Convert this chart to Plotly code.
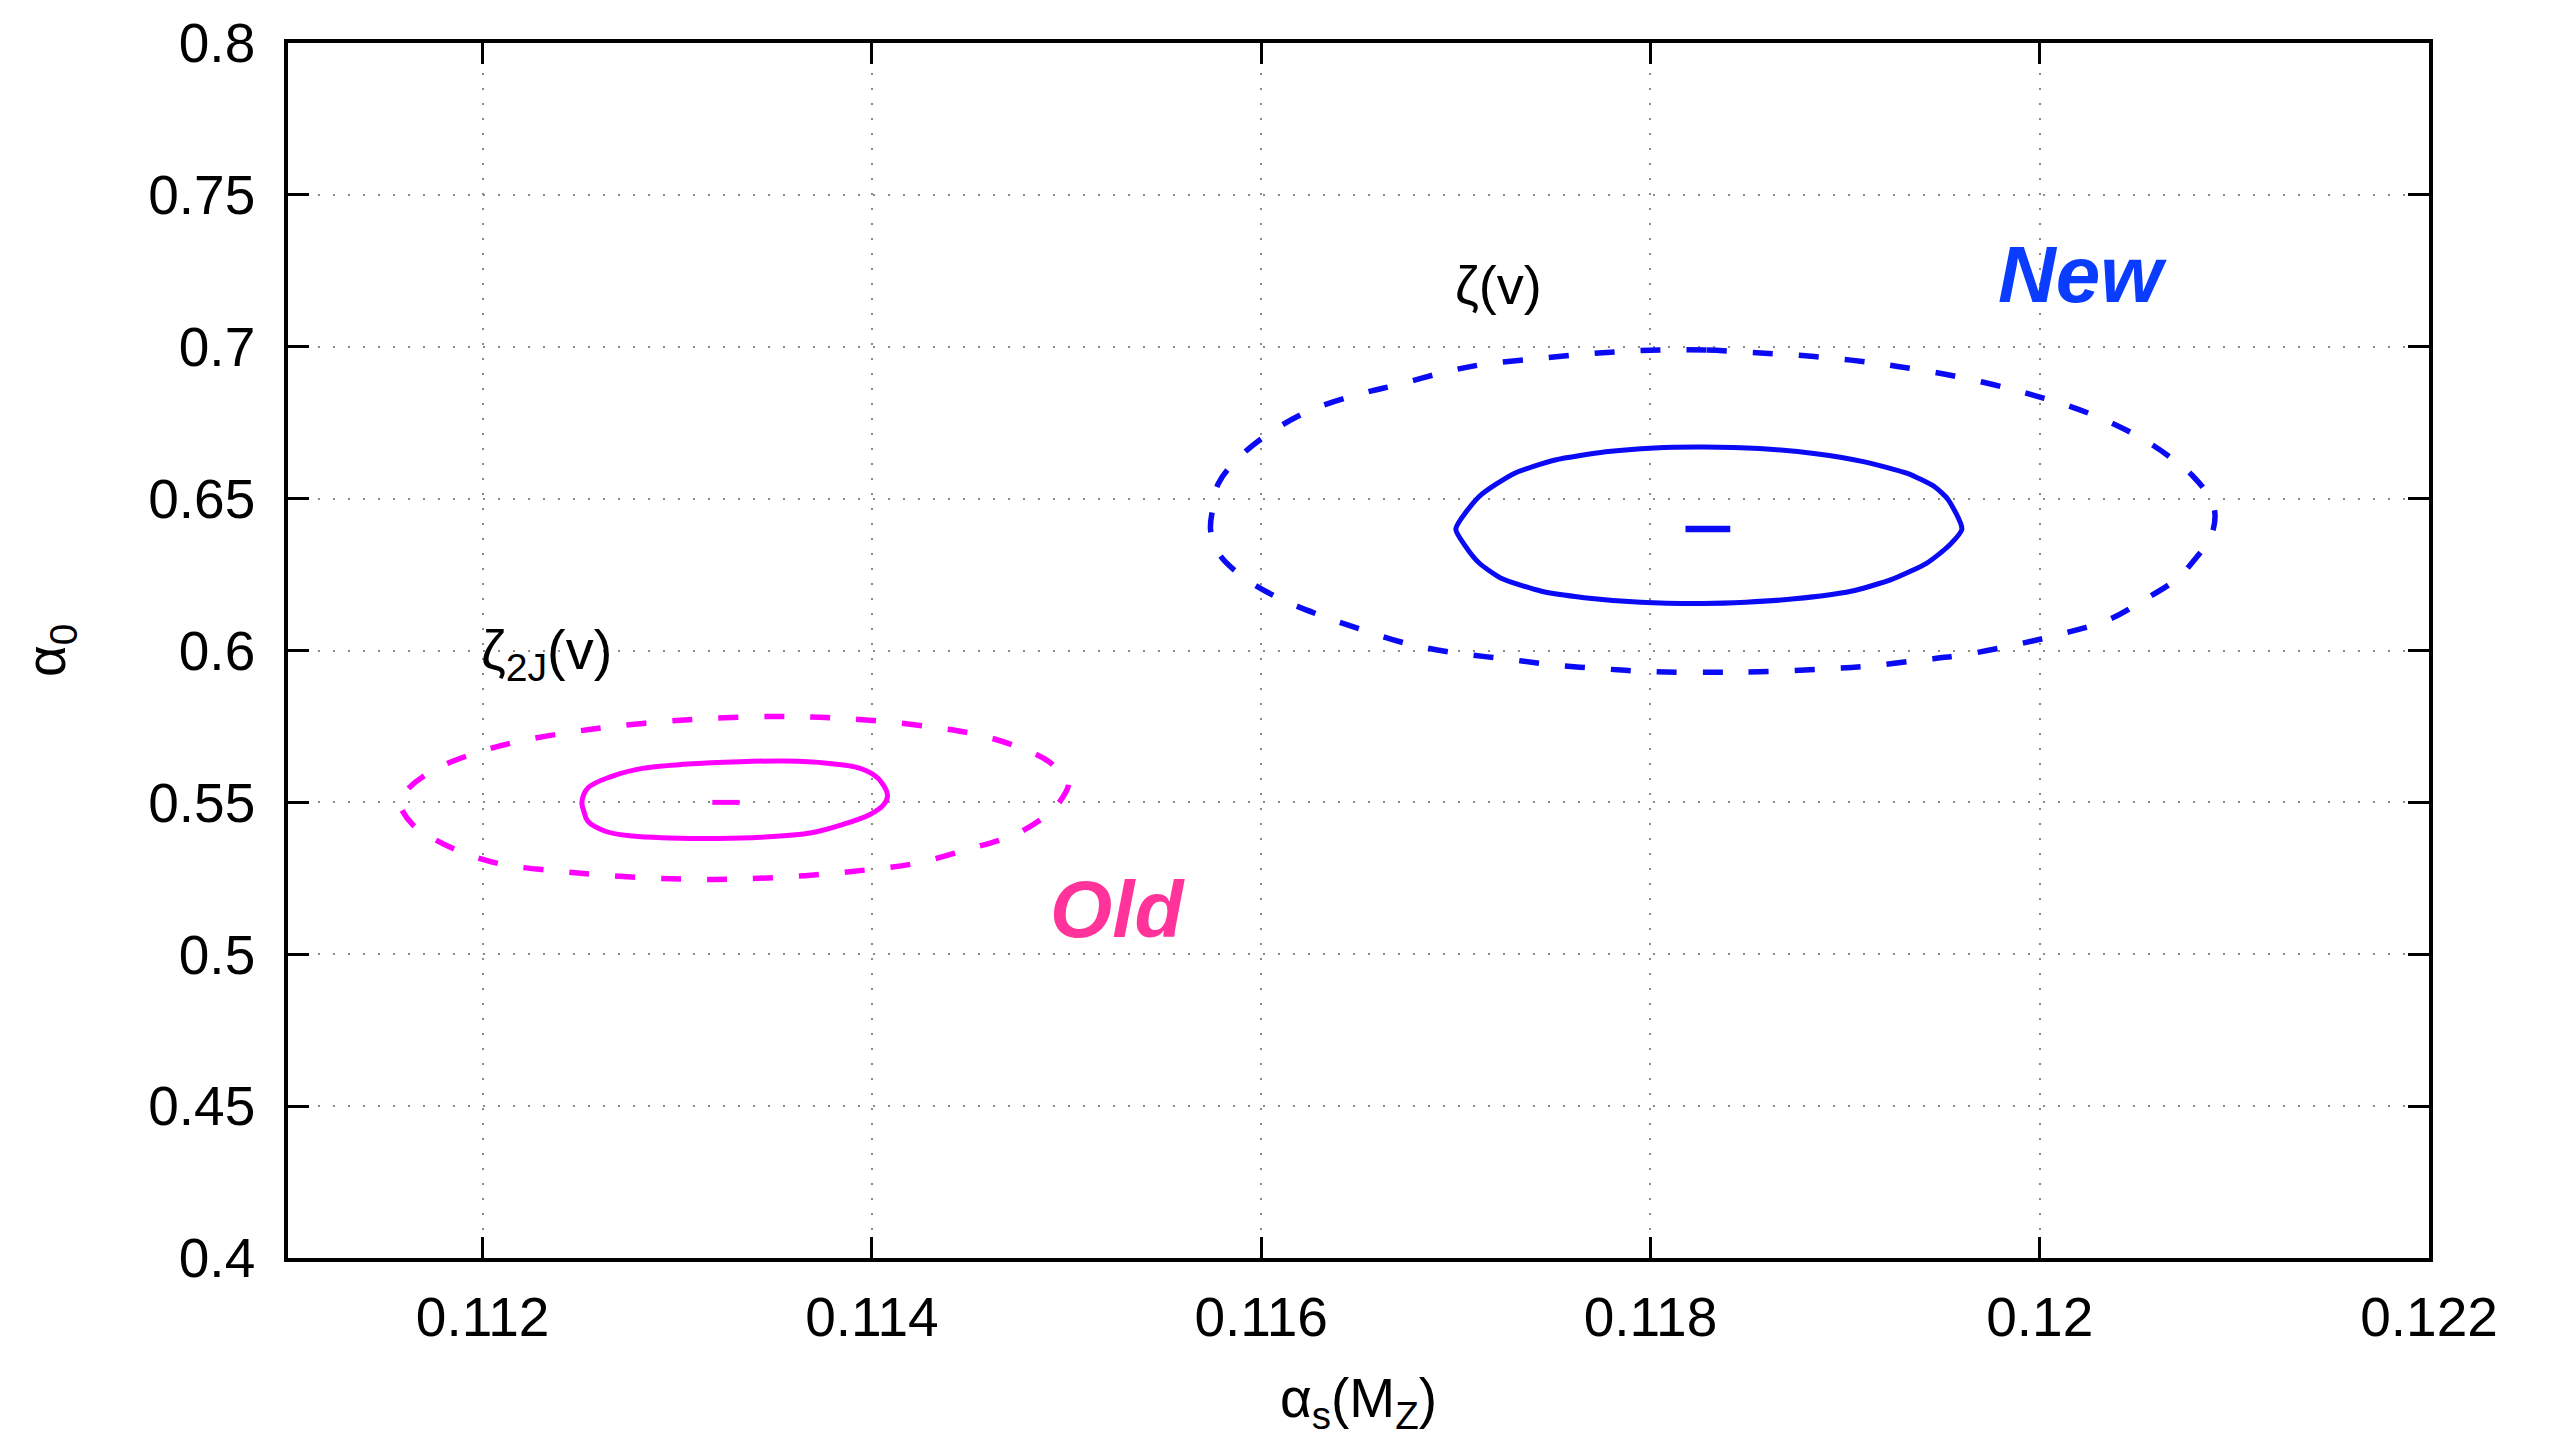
import plotly.graph_objects as go

# ---- data ----
new_outer_x = [0.11805, 0.11829, 0.11852, 0.11878, 0.11903, 0.11924, 0.11946, 0.11971, 0.11993, 0.12014,
               0.12036, 0.12054, 0.12069, 0.12079, 0.12087, 0.12090, 0.12088, 0.12081, 0.12070, 0.12054,
               0.12036, 0.12014, 0.11989, 0.11960, 0.11939, 0.11914, 0.11888, 0.11856, 0.11831, 0.11802,
               0.11777, 0.11751, 0.11726, 0.11701, 0.11676, 0.11651, 0.11629, 0.11607, 0.11589, 0.11578,
               0.11574, 0.11575, 0.11578, 0.11589, 0.11605, 0.11625, 0.11651, 0.11672, 0.11694, 0.11715,
               0.11741, 0.11766, 0.11787, 0.11805]
new_outer_y = [0.6989, 0.6989, 0.6981, 0.6971, 0.6956, 0.6938, 0.6916, 0.6883, 0.6847, 0.6807,
               0.6752, 0.6692, 0.6627, 0.6572, 0.6507, 0.6452, 0.6376, 0.6310, 0.6234, 0.6168,
               0.6103, 0.6059, 0.6021, 0.5985, 0.5969, 0.5950, 0.5939, 0.5930, 0.5928, 0.5930,
               0.5939, 0.5952, 0.5972, 0.5991, 0.6021, 0.6070, 0.6119, 0.6179, 0.6250, 0.6321,
               0.6397, 0.6463, 0.6550, 0.6638, 0.6719, 0.6790, 0.6845, 0.6878, 0.6916, 0.6943,
               0.6960, 0.6976, 0.6985, 0.6989]

new_inner_x = [0.11700, 0.11712, 0.11730, 0.11751, 0.11777, 0.11802, 0.11827, 0.11856, 0.11885, 0.11910,
               0.11932, 0.11946, 0.11953, 0.11960, 0.11953, 0.11942, 0.11924, 0.11903, 0.11874, 0.11849,
               0.11827, 0.11795, 0.11766, 0.11744, 0.11723, 0.11712, 0.11705, 0.11700]
new_inner_y = [0.6400, 0.6507, 0.6583, 0.6627, 0.6654, 0.6667, 0.6670, 0.6665, 0.6648, 0.6621,
               0.6583, 0.6539, 0.6496, 0.6400, 0.6343, 0.6288, 0.6234, 0.6195, 0.6170, 0.6159,
               0.6155, 0.6159, 0.6174, 0.6195, 0.6239, 0.6288, 0.6343, 0.6400]

new_center_x = [0.11818, 0.11841]
new_center_y = [0.6400, 0.6400]

old_outer_x = [0.11157, 0.11162, 0.11175, 0.11196, 0.11218, 0.11243, 0.11266, 0.11291, 0.11316, 0.11341,
               0.11363, 0.11385, 0.11408, 0.11433, 0.11455, 0.11477, 0.11491, 0.11499, 0.11501, 0.11494,
               0.11488, 0.11477, 0.11469, 0.11449, 0.11424, 0.11399, 0.11374, 0.11349, 0.11327, 0.11305,
               0.11282, 0.11257, 0.11235, 0.11210, 0.11190, 0.11174, 0.11164, 0.11158, 0.11157]
old_outer_y = [0.5503, 0.5547, 0.5607, 0.5662, 0.5700, 0.5729, 0.5749, 0.5765, 0.5776, 0.5782,
               0.5782, 0.5776, 0.5765, 0.5746, 0.5722, 0.5678, 0.5634, 0.5580, 0.5560, 0.5481,
               0.5449, 0.5405, 0.5383, 0.5345, 0.5301, 0.5279, 0.5263, 0.5252, 0.5247, 0.5247,
               0.5252, 0.5263, 0.5276, 0.5296, 0.5334, 0.5383, 0.5427, 0.5481, 0.5503]

old_inner_x = [0.11251, 0.11254, 0.11266, 0.11282, 0.11305, 0.11332, 0.11355, 0.11377, 0.11394, 0.11403,
               0.11408, 0.11406, 0.11399, 0.11385, 0.11369, 0.11343, 0.11321, 0.11296, 0.11277, 0.11263,
               0.11254, 0.11252, 0.11251]
old_inner_y = [0.5500, 0.5547, 0.5585, 0.5612, 0.5626, 0.5634, 0.5636, 0.5629, 0.5612, 0.5580,
               0.5525, 0.5492, 0.5460, 0.5427, 0.5400, 0.5385, 0.5381, 0.5383, 0.5389, 0.5405,
               0.5438, 0.5471, 0.5500]

old_center_x = [0.11318, 0.11332]
old_center_y = [0.5500, 0.5500]

x_tickvals = [0.112, 0.114, 0.116, 0.118, 0.120, 0.122]
x_ticktext = ["0.112", "0.114", "0.116", "0.118", "0.12", "0.122"]
y_tickvals = [0.40, 0.45, 0.50, 0.55, 0.60, 0.65, 0.70, 0.75, 0.80]
y_ticktext = ["0.4", "0.45", "0.5", "0.55", "0.6", "0.65", "0.7", "0.75", "0.8"]

BLUE = "#0a0af5"
MAGENTA = "#ff00ff"
FONT = "Liberation Sans, Arial, Helvetica, sans-serif"

fig = go.Figure()
fig.add_trace(go.Scatter(x=new_outer_x, y=new_outer_y, mode="lines",
                         line=dict(color=BLUE, width=5.5, dash="20px,26px", shape="spline"),
                         showlegend=False, hoverinfo="skip"))
fig.add_trace(go.Scatter(x=new_inner_x, y=new_inner_y, mode="lines",
                         line=dict(color=BLUE, width=5, shape="spline", smoothing=0.6),
                         showlegend=False, hoverinfo="skip"))
fig.add_trace(go.Scatter(x=new_center_x, y=new_center_y, mode="lines",
                         line=dict(color=BLUE, width=6.5),
                         showlegend=False, hoverinfo="skip"))
fig.add_trace(go.Scatter(x=old_outer_x, y=old_outer_y, mode="lines",
                         line=dict(color=MAGENTA, width=5.5, dash="20px,26px", shape="spline"),
                         showlegend=False, hoverinfo="skip"))
fig.add_trace(go.Scatter(x=old_inner_x, y=old_inner_y, mode="lines",
                         line=dict(color=MAGENTA, width=5, shape="spline"),
                         showlegend=False, hoverinfo="skip"))
fig.add_trace(go.Scatter(x=old_center_x, y=old_center_y, mode="lines",
                         line=dict(color=MAGENTA, width=5),
                         showlegend=False, hoverinfo="skip"))

axis_common = dict(
    showline=True, linecolor="black", linewidth=3.5, mirror="allticks",
    ticks="inside", ticklen=21, tickwidth=3, tickcolor="black",
    showgrid=True, gridcolor="#8a8a8a", gridwidth=2, griddash="2px,13px",
    zeroline=False,
    tickfont=dict(family=FONT, size=55, color="black"),
)

fig.update_xaxes(range=[0.111, 0.122], tickvals=x_tickvals, ticktext=x_ticktext,
                 ticklabelstandoff=8,
                 title=dict(text="α<sub>s</sub>(M<sub>Z</sub>)", font=dict(family=FONT, size=55, color="black"),
                            standoff=38),
                 **axis_common)
fig.update_yaxes(range=[0.4, 0.8], tickvals=y_tickvals, ticktext=y_ticktext,
                 ticklabelstandoff=18,
                 title=dict(text="α<sub>0</sub>", font=dict(family=FONT, size=55, color="black"),
                            standoff=66),
                 **axis_common)

fig.add_annotation(x=0.11722, y=0.7204, text="ζ(v)", showarrow=False,
                   font=dict(family=FONT, size=54, color="black"))
fig.add_annotation(x=0.11198, y=0.5991, text="ζ<sub>2J</sub>(v)", showarrow=False, xanchor="left",
                   font=dict(family=FONT, size=56, color="black"))
fig.add_annotation(x=0.12022, y=0.7239, text="<b><i>New</i></b>", showarrow=False,
                   font=dict(family=FONT, size=80, color="#0a3cff"))
fig.add_annotation(x=0.11526, y=0.5146, text="<b><i>Old</i></b>", showarrow=False,
                   font=dict(family=FONT, size=80, color="#ff3399"))

fig.update_layout(
    width=2551, height=1437,
    margin=dict(l=288, r=122, t=36, b=179),
    plot_bgcolor="white", paper_bgcolor="white",
    font=dict(family=FONT, color="black"),
)

fig.write_html("out.html")
